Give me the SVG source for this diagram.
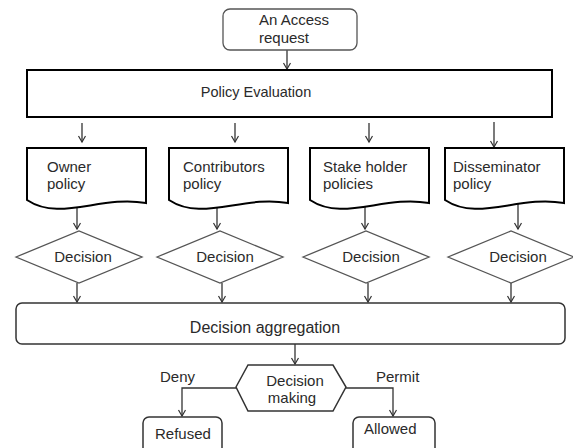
<svg xmlns="http://www.w3.org/2000/svg" width="573" height="448" viewBox="0 0 573 448">
<style>
text{font-family:"Liberation Sans",Arial,sans-serif;font-size:15px;fill:#2a2a2a}
.c{text-anchor:middle}
.thin{fill:#fff;stroke:#555;stroke-width:1.3}
.thick{fill:#fff;stroke:#000;stroke-width:2}
.mid{fill:#fff;stroke:#333;stroke-width:1.5}
.ln{fill:none;stroke:#333;stroke-width:1.3;marker-end:url(#ah)}
</style>
<defs>
<marker id="ah" markerWidth="10" markerHeight="10" refX="7" refY="4" orient="auto" markerUnits="userSpaceOnUse">
<path d="M1,0.5 L7,4 L1,7.5" fill="none" stroke="#333" stroke-width="1.2"/>
</marker>
<path id="doc" d="M0,0 H119 V55 C73,47 33,74 0,52 Z"/>
<path id="dia" d="M-63,0 L0,-26 L63,0 L0,26 Z"/>
</defs>
<rect width="573" height="448" fill="#fff"/>
<g id="connectors">
<line class="ln" x1="287" y1="50" x2="287" y2="69"/>
<line class="ln" x1="82" y1="123" x2="82" y2="142"/>
<line class="ln" x1="235" y1="123" x2="235" y2="142"/>
<line class="ln" x1="369" y1="123" x2="369" y2="142"/>
<line class="ln" x1="494" y1="122" x2="494" y2="147"/>
<line class="ln" x1="77" y1="208" x2="77" y2="229"/>
<line class="ln" x1="217" y1="204" x2="217" y2="229"/>
<line class="ln" x1="365" y1="204" x2="365" y2="229"/>
<line class="ln" x1="518" y1="204" x2="518" y2="229"/>
<line class="ln" x1="77" y1="283" x2="77" y2="302"/>
<line class="ln" x1="222" y1="283" x2="222" y2="302"/>
<line class="ln" x1="368" y1="283" x2="368" y2="302"/>
<line class="ln" x1="511" y1="283" x2="511" y2="302"/>
<line class="ln" x1="295" y1="344" x2="295" y2="364"/>
<polyline class="ln" points="236,388 182,388 182,416"/>
<polyline class="ln" points="346,388 393,388 393,416"/>
</g>
<g id="access">
<rect class="thin" x="223" y="9" width="134" height="41" rx="7"/>
<text x="259" y="25">An Access</text>
<text x="259" y="43">request</text>
</g>
<g id="policy-evaluation">
<rect class="thick" x="27" y="70" width="525" height="47"/>
<text class="c" x="256" y="97" style="font-size:14.5px">Policy Evaluation</text>
</g>
<g id="owner-policy">
<use href="#doc" class="thick" x="27" y="148"/>
<text x="47" y="172">Owner</text>
<text x="47" y="189">policy</text>
</g>
<g id="contributors-policy">
<use href="#doc" class="thick" x="169" y="148"/>
<text x="183" y="172">Contributors</text>
<text x="183" y="189">policy</text>
</g>
<g id="stakeholder-policies">
<use href="#doc" class="thick" x="310" y="148"/>
<text x="323" y="172">Stake holder</text>
<text x="323" y="189">policies</text>
</g>
<g id="disseminator-policy">
<use href="#doc" class="thick" x="445" y="148"/>
<text x="453" y="172">Disseminator</text>
<text x="453" y="189">policy</text>
</g>
<g id="decision1">
<use href="#dia" class="thin" x="79" y="257"/>
<text class="c" x="83" y="262">Decision</text>
</g>
<g id="decision2">
<use href="#dia" class="thin" x="220" y="257"/>
<text class="c" x="225" y="262">Decision</text>
</g>
<g id="decision3">
<use href="#dia" class="thin" x="366" y="257"/>
<text class="c" x="371" y="262">Decision</text>
</g>
<g id="decision4">
<use href="#dia" class="thin" x="511" y="257"/>
<text class="c" x="518" y="262">Decision</text>
</g>
<g id="aggregation">
<rect class="mid" x="16" y="303" width="549" height="41" rx="6"/>
<text class="c" x="265" y="333" style="font-size:16px">Decision aggregation</text>
</g>
<g id="decision-making">
<polygon class="mid" points="236,387 248,365 333,365 346,387 333,411 248,411"/>
<text class="c" x="295" y="386">Decision</text>
<text class="c" x="292" y="403">making</text>
</g>
<g id="labels">
<text x="160" y="382">Deny</text>
<text x="376" y="382">Permit</text>
</g>
<g id="refused">
<rect class="mid" x="143" y="417" width="79" height="40" rx="6"/>
<text x="155" y="439">Refused</text>
</g>
<g id="allowed">
<rect class="mid" x="353" y="417" width="82" height="40" rx="6"/>
<text x="364" y="434">Allowed</text>
</g>
</svg>
